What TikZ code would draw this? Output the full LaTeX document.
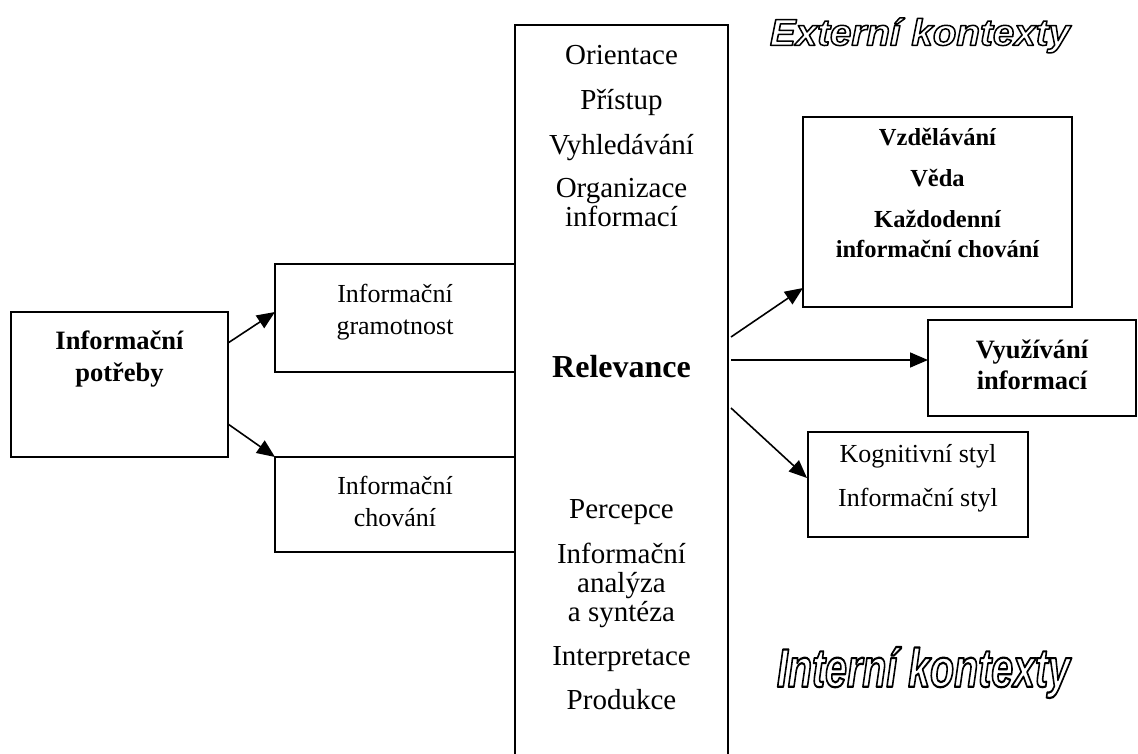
\documentclass[tikz,border=0pt]{standalone}
\usepackage{fontspec}
\setmainfont{Liberation Serif}
\newfontfamily\outlinefont{Liberation Sans}
\usetikzlibrary{arrows.meta}
\newcommand{\outlinetext}[1]{\special{pdf:literal direct 1 Tr 0.4 w 1 j}#1\special{pdf:literal direct 0 Tr 0 j}}
\newcommand{\ctxlabel}[3]{\resizebox*{#1}{#2}{\outlinetext{\outlinefont\bfseries\itshape #3}}}
\begin{document}
\begin{tikzpicture}[x=1pt,y=-1pt,
  box/.style={draw, line width=2pt, inner sep=0pt},
  arr/.style={line width=1.6pt, -{Triangle[length=18pt,width=15pt]}},
  ctr/.style={font=\fontsize{29}{31}\selectfont, anchor=base, inner sep=0pt},
  side/.style={font=\fontsize{26}{28}\selectfont, anchor=base, inner sep=0pt},
  sideb/.style={font=\fontsize{26.5}{28}\selectfont\bfseries, anchor=base, inner sep=0pt},
  extb/.style={font=\fontsize{24.5}{26}\selectfont\bfseries, anchor=base, inner sep=0pt},
  ctx/.style={inner sep=0pt}
]
\clip (0,0) rectangle (1138,754);

% boxes
\node[box, minimum width=213pt, minimum height=765pt] (mid) at (621.5,407.5) {};
\node[box, minimum width=217pt, minimum height=145pt] (pot) at (119.5,384.5) {};
\node[box, minimum width=240pt, minimum height=108pt] (gram) at (395,318) {};
\node[box, minimum width=240pt, minimum height=95pt] (chov) at (395,504.5) {};
\node[box, minimum width=269pt, minimum height=190pt] (vzd) at (937.5,212) {};
\node[box, minimum width=208pt, minimum height=96pt] (vyuz) at (1032,368) {};
\node[box, minimum width=220pt, minimum height=105pt] (kog) at (918,484.5) {};

% texts in the left boxes
\node[sideb] (t1) at (119.5,349) {Informační};
\node[sideb] (t2) at (119.5,381) {potřeby};
\node[side] (t3) at (395,302) {Informační};
\node[side] (t4) at (395,334) {gramotnost};
\node[side] (t5) at (395,494) {Informační};
\node[side] (t6) at (395,526) {chování};

% texts in the middle box
\node[ctr] (m1) at (621.5,65) {Orientace};
\node[ctr] (m2) at (621.5,110) {Přístup};
\node[ctr] (m3) at (621.5,155) {Vyhledávání};
\node[ctr] (m4) at (621.5,198) {Organizace};
\node[ctr] (m5) at (621.5,227) {informací};
\node[ctr, font=\fontsize{32}{34}\selectfont\bfseries] (rel) at (621.5,377) {Relevance};
\node[ctr] (m6) at (621.5,518) {Percepce};
\node[ctr] (m7) at (621.5,563) {Informační};
\node[ctr] (m8) at (621.5,592) {analýza};
\node[ctr] (m9) at (621.5,621) {a syntéza};
\node[ctr] (m10) at (621.5,665) {Interpretace};
\node[ctr] (m11) at (621.5,709) {Produkce};

% texts in the right boxes
\node[extb] (r1) at (937.5,146) {Vzdělávání};
\node[extb] (r2) at (937.5,187) {Věda};
\node[extb] (r3) at (937.5,228) {Každodenní};
\node[extb] (r4) at (937.5,258) {informační chování};
\node[sideb] (r5) at (1032,358) {Využívání};
\node[sideb] (r6) at (1032,389) {informací};
\node[side] (r7) at (918,462) {Kognitivní styl};
\node[side] (r8) at (918,506) {Informační styl};

% connectors
\coordinate (a1s) at (228,343);
\coordinate (a1e) at (275,312);
\coordinate (a2s) at (228,424);
\coordinate (a2e) at (275,457);
\coordinate (a3s) at (731,337);
\coordinate (a3e) at (803,288);
\coordinate (a4s) at (731,360);
\coordinate (a4e) at (928,360);
\coordinate (a5s) at (731,408);
\coordinate (a5e) at (807,478);
\draw[arr] (a1s) -- (a1e);
\draw[arr] (a2s) -- (a2e);
\draw[arr] (a3s) -- (a3e);
\draw[arr] (a4s) -- (a4e);
\draw[arr] (a5s) -- (a5e);

% outlined context labels
\node[ctx] (ext) at (920,35.5) {\ctxlabel{300pt}{35pt}{Externí kontexty}};
\node[ctx] (int) at (923.5,672.5) {\ctxlabel{293pt}{51pt}{Interní kontexty}};
\end{tikzpicture}
\end{document}
